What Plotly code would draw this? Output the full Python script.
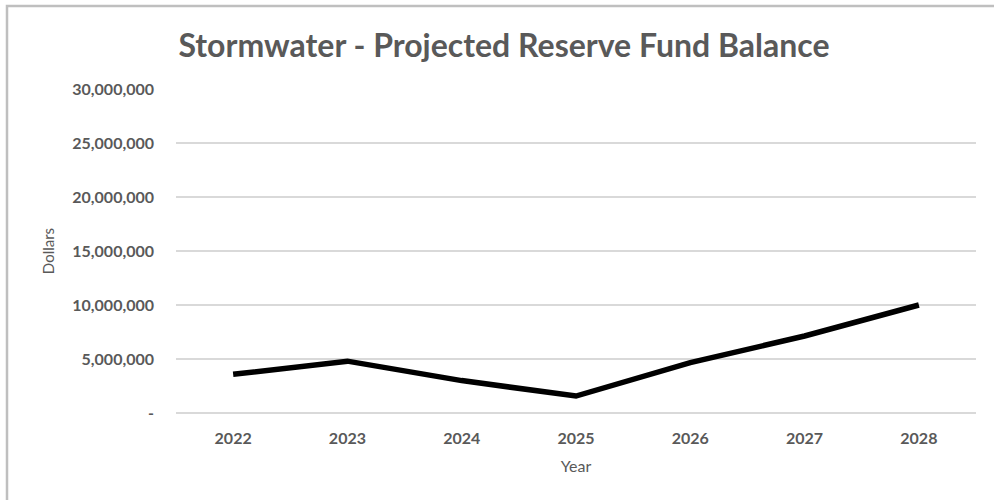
import plotly.graph_objects as go

years = ["2022", "2023", "2024", "2025", "2026", "2027", "2028"]
balance = [3580000, 4800000, 3000000, 1570000, 4660000, 7130000, 10000000]
y_ticks = [0, 5000000, 10000000, 15000000, 20000000, 25000000, 30000000]
y_tick_labels = ["-", "5,000,000", "10,000,000", "15,000,000", "20,000,000", "25,000,000", "30,000,000"]

FONT = "Lato, 'Open Sans', sans-serif"
GRAY = "#595959"

fig = go.Figure()
fig.add_trace(go.Scatter(
    x=years, y=balance, mode="lines",
    line=dict(color="black", width=5.5),
    hoverinfo="x+y", showlegend=False,
))

fig.update_layout(
    width=994, height=500,
    margin=dict(l=176, r=18, t=89, b=87),
    paper_bgcolor="white", plot_bgcolor="white",
    title=dict(text="<b>Stormwater - Projected Reserve Fund Balance</b>",
               x=504 / 994, xref="container", xanchor="center",
               y=1 - 46 / 500, yanchor="middle",
               font=dict(family=FONT, size=32, color=GRAY)),
    xaxis=dict(
        type="category", showgrid=False, zeroline=False, showline=False,
        ticks="", ticklabelstandoff=14,
        tickfont=dict(family=FONT, size=16, color=GRAY, weight="bold"),
        title=dict(text="Year", font=dict(family=FONT, size=16, color=GRAY), standoff=14),
        range=[-0.5, 6.5],
    ),
    yaxis=dict(
        range=[0, 30000000], tickvals=y_ticks, ticktext=y_tick_labels,
        showgrid=True, gridcolor="#d9d9d9", gridwidth=1.5,
        zeroline=True, zerolinecolor="#d9d9d9", zerolinewidth=1.5,
        showline=False, ticks="", ticklabelstandoff=21,
        tickfont=dict(family=FONT, size=16, color=GRAY, weight="bold"),
        title=dict(text="Dollars", font=dict(family=FONT, size=15, color=GRAY), standoff=14),
    ),
    shapes=[dict(type="rect", xref="paper", yref="paper",
                 x0=(7 - 176) / 800, x1=1.1, y0=-0.4, y1=(413 - 6) / 324,
                 line=dict(color="#bfbfbf", width=2.5), fillcolor="rgba(0,0,0,0)", layer="below")],
)

fig.write_html("out.html", config={"displayModeBar": False},
               post_script="document.body.style.margin='0';")
